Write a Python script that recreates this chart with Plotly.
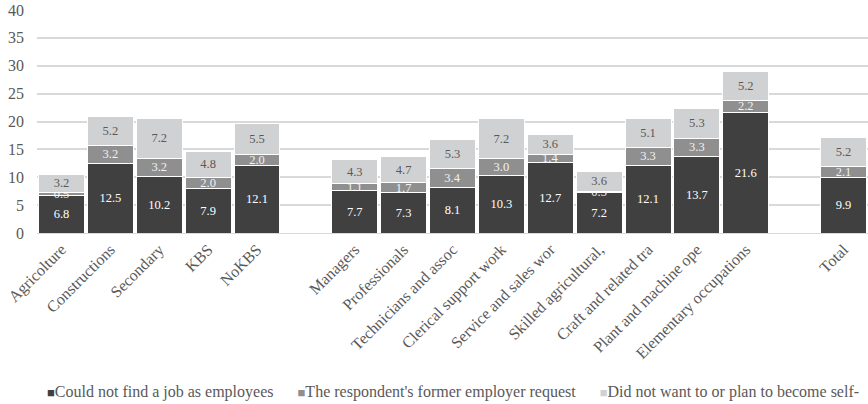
import plotly.graph_objects as go

# Categories (None marks an empty spacer slot between groups)
categories = ["Agricolture", "Constructions", "Secondary", "KBS", "NoKBS", None,
              "Managers", "Professionals", "Technicians and assoc", "Clerical support work",
              "Service and sales wor", "Skilled agricultural,", "Craft and related tra",
              "Plant and machine ope", "Elementary occupations", None, "Total"]

could_not_find = [6.8, 12.5, 10.2, 7.9, 12.1, None, 7.7, 7.3, 8.1, 10.3, 12.7, 7.2, 12.1, 13.7, 21.6, None, 9.9]
employer_request = [0.5, 3.2, 3.2, 2.0, 2.0, None, 1.1, 1.7, 3.4, 3.0, 1.4, 0.3, 3.3, 3.3, 2.2, None, 2.1]
did_not_want = [3.2, 5.2, 7.2, 4.8, 5.5, None, 4.3, 4.7, 5.3, 7.2, 3.6, 3.6, 5.1, 5.3, 5.2, None, 5.2]

series_names = ["Could not find a job as employees",
                "The respondent's former employer request",
                "Did not want to or plan to become self-"]

x = list(range(len(categories)))
tickvals = [i for i, c in enumerate(categories) if c is not None]
ticktext = [c for c in categories if c is not None]

FONT = "Liberation Serif, Times New Roman, serif"
colors = ["#404040", "#8f8f8f", "#d0d1d3"]
label_colors = ["#ffffff", "#f2f2f2", "#595959"]

fig = go.Figure()
for name, vals, col, lcol in zip(series_names,
                                 [could_not_find, employer_request, did_not_want],
                                 colors, label_colors):
    fig.add_trace(go.Bar(
        x=x, y=vals, name=name,
        marker=dict(color=col, line=dict(width=1, color="#ffffff")),
        text=[f"{v:.1f}" if v is not None else "" for v in vals],
        textposition="inside", insidetextanchor="middle", textangle=0,
        textfont=dict(family=FONT, size=12.5, color=lcol),
        hoverinfo="skip", showlegend=False,
    ))

# Legend row drawn as a single line of text with coloured square markers
sq = "<span style='color:{c};font-size:13px'>■</span>"
gap = "&nbsp;" * 6
legend_text = gap.join(sq.format(c=c) + n for c, n in zip(colors, series_names))
fig.add_annotation(text=legend_text, xref="paper", yref="paper", x=0.5, y=-0.712,
                   xanchor="center", yanchor="middle", showarrow=False,
                   font=dict(family=FONT, size=16, color="#595959"))

fig.update_layout(
    barmode="stack",
    bargap=0.06,
    width=868, height=404,
    margin=dict(l=37, r=0, t=10, b=171),
    plot_bgcolor="white", paper_bgcolor="white",
    font=dict(family=FONT, color="#595959", size=13),
    uniformtext=dict(mode="show", minsize=12.5),
    showlegend=False,
    xaxis=dict(tickmode="array", tickvals=tickvals, ticktext=ticktext,
               tickangle=-45, range=[-0.5, len(categories) - 0.5],
               showgrid=False, showline=True, linecolor="#d9d9d9",
               tickfont=dict(family=FONT, size=16, color="#595959")),
    yaxis=dict(range=[0, 40], dtick=5, showgrid=True, gridcolor="#d9d9d9", gridwidth=1.5,
               zeroline=False, ticks="", ticklabelstandoff=12,
               tickfont=dict(family=FONT, size=16, color="#595959")),
)

fig.write_html("out.html")
